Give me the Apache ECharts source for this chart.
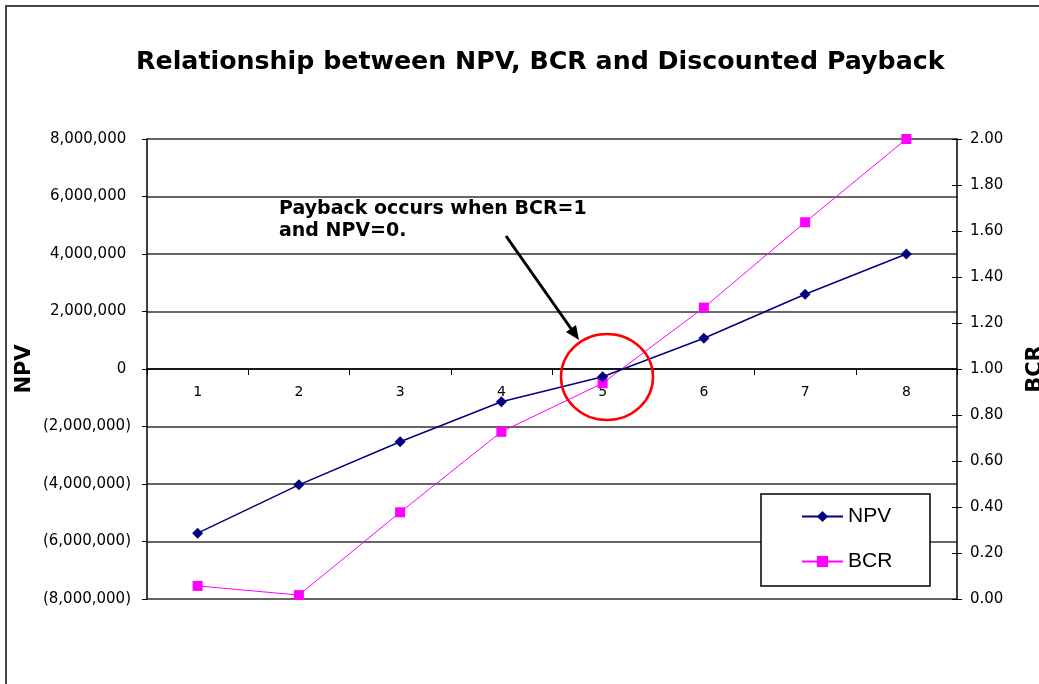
<!DOCTYPE html>
<html>
<head>
<meta charset="utf-8">
<script src="https://cdn.jsdelivr.net/npm/echarts@6/dist/echarts.min.js"></script>
<style>
  html, body { margin: 0; padding: 0; background: #fff; }
  #chart { width: 1039px; height: 684px; }
</style>
</head>
<body>
<div id="chart"></div>
<script>
// years
const years = ['1', '2', '3', '4', '5', '6', '7', '8'];
// NPV
const npv = [-5710000, -4030000, -2530000, -1140000, -270000, 1070000, 2600000, 4000000];
// BCR
const bcr = [0.057, 0.017, 0.377, 0.727, 0.938, 1.267, 1.638, 2.0];
const npvTicks = { min: -8000000, max: 8000000, interval: 2000000 };
const bcrTicks = { min: 0, max: 2, interval: 0.2 };

const font = '"DejaVu Sans", Verdana, sans-serif';
const arial = 'Arial, "Liberation Sans", sans-serif';

// excel style: negatives in brackets, positives padded for the bracket
const fmtNpv = v => {
    if (v === 0) return '0\u00a0';
    const s = Math.abs(v).toLocaleString('en-US');
    return v < 0 ? '(' + s + ')' : s + '\u00a0';
};

const chart = echarts.init(document.getElementById('chart'));

const option = {
    backgroundColor: '#ffffff',
    animation: false,
    title: {
        text: 'Relationship between NPV, BCR and Discounted Payback',
        left: 131,
        top: 45,
        textStyle: {
            fontFamily: font,
            fontWeight: 'bold',
            fontSize: 25.3,
            color: '#000'
        }
    },
    grid: {
        left: 147,
        right: 82,
        top: 139,
        bottom: 85,
        outerBoundsMode: 'none',
        containLabel: false
    },
    legend: {
        orient: 'vertical',
        left: 801,
        top: 506,
        padding: 0,
        itemWidth: 41,
        itemHeight: 14,
        itemGap: 24,
        z: 10,
        textStyle: { fontFamily: arial, fontSize: 21, color: '#000' },
        data: ['NPV', 'BCR']
    },
    xAxis: [{
        type: 'category',
        data: years,
        boundaryGap: true,
        axisLine: { onZero: true, lineStyle: { color: '#000', width: 1.5 } },
        axisTick: { show: true, alignWithLabel: false, length: 6, lineStyle: { color: '#000' } },
        axisLabel: { show: false },
        splitLine: { show: false }
    }, {
        // labels only, lifted up to sit under the zero line
        type: 'category',
        data: years,
        position: 'bottom',
        offset: -230,
        axisLine: { show: false, onZero: false },
        axisTick: { show: false },
        axisLabel: { margin: 16, fontFamily: font, fontSize: 14, color: '#000' },
        splitLine: { show: false }
    }],
    yAxis: [{
        type: 'value',
        name: 'NPV',
        nameLocation: 'middle',
        nameGap: 112,
        nameRotate: 90,
        nameMoveOverlap: false,
        nameTextStyle: { fontFamily: font, fontWeight: 'bold', fontSize: 21, color: '#000' },
        min: npvTicks.min,
        max: npvTicks.max,
        interval: npvTicks.interval,
        axisLine: { show: true, lineStyle: { color: '#000', width: 1.5 } },
        axisTick: { show: true, length: 5, lineStyle: { color: '#000' } },
        axisLabel: { margin: 16, fontFamily: font, fontSize: 15, color: '#000', formatter: fmtNpv },
        splitLine: { show: true, lineStyle: { color: '#333', width: 1.5 } }
    }, {
        type: 'value',
        name: 'BCR',
        position: 'right',
        nameLocation: 'middle',
        nameGap: 68,
        nameRotate: 90,
        nameMoveOverlap: false,
        nameTextStyle: { fontFamily: font, fontWeight: 'bold', fontSize: 21, color: '#000' },
        min: bcrTicks.min,
        max: bcrTicks.max,
        interval: bcrTicks.interval,
        axisLine: { show: true, lineStyle: { color: '#000', width: 1.5 } },
        axisTick: { show: true, length: 5, lineStyle: { color: '#000' } },
        axisLabel: { margin: 13, fontFamily: font, fontSize: 15, color: '#000', formatter: v => v.toFixed(2) },
        splitLine: { show: false }
    }, {
        // inner half of the crossing ticks on the right axis
        type: 'value',
        position: 'right',
        min: bcrTicks.min,
        max: bcrTicks.max,
        interval: bcrTicks.interval,
        axisLine: { show: false },
        axisTick: { show: true, inside: true, length: 5, lineStyle: { color: '#000' } },
        axisLabel: { show: false },
        splitLine: { show: false }
    }],
    series: [{
        name: 'NPV',
        type: 'line',
        yAxisIndex: 0,
        data: npv,
        symbol: 'diamond',
        symbolSize: 11,
        itemStyle: { color: '#000080' },
        lineStyle: { color: '#000080', width: 1.5 },
        z: 3
    }, {
        name: 'BCR',
        type: 'line',
        yAxisIndex: 1,
        data: bcr,
        symbol: 'rect',
        symbolSize: 10,
        itemStyle: { color: '#FF00FF' },
        lineStyle: { color: '#FF00FF', width: 1 },
        z: 2
    }],
    graphic: [{
        type: 'rect',
        shape: { x: 6, y: 6, width: 1200, height: 1000 },
        style: { fill: 'none', stroke: '#444', lineWidth: 2 },
        silent: true,
        z: 0
    }, {
        type: 'rect',
        shape: { x: 761, y: 494, width: 169, height: 92 },
        style: { fill: '#fff', stroke: '#000', lineWidth: 1.5 },
        z: 5
    }, {
        type: 'text',
        left: 279,
        top: 198,
        style: {
            text: 'Payback occurs when BCR=1\nand NPV=0.',
            font: 'bold 19px ' + font,
            fill: '#000',
            lineHeight: 22
        },
        z: 10
    }, {
        type: 'line',
        shape: { x1: 506, y1: 236, x2: 572, y2: 330 },
        style: { stroke: '#000', lineWidth: 3 },
        z: 10
    }, {
        type: 'polygon',
        shape: { points: [[579, 340], [566, 332], [576, 325]] },
        style: { fill: '#000' },
        z: 10
    }, {
        type: 'ellipse',
        shape: { cx: 607, cy: 377, rx: 46, ry: 43 },
        style: { fill: 'none', stroke: '#FF0000', lineWidth: 2.5 },
        z: 10
    }]
};

chart.setOption(option);
</script>
</body>
</html>
